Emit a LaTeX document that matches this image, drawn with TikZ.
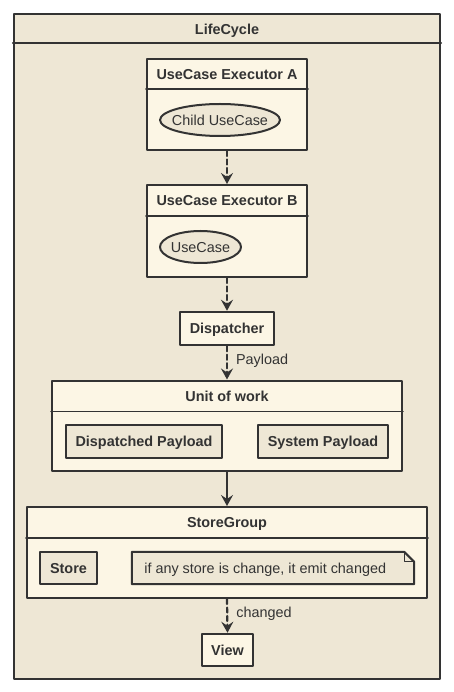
\documentclass[tikz,border=0pt]{standalone}
\usepackage{fontspec}
\setmainfont{Liberation Sans}
\usepackage{tikz}
\usetikzlibrary{arrows.meta}
\usetikzlibrary{shapes.geometric}
\usetikzlibrary{positioning}
\definecolor{bgpaper}{HTML}{EEE7D5}
\definecolor{boxpaper}{HTML}{FCF6E5}
\definecolor{ink}{HTML}{333333}
\tikzstyle{every node}=[font=\fontsize{14.4}{16}\selectfont, text=ink, text height=10.4pt, text depth=0pt]
\tikzstyle{every path}=[line cap=round,line join=round]
\tikzstyle{group}=[draw=ink, fill=boxpaper, line width=2pt, inner sep=0pt]
\tikzstyle{header}=[font=\fontsize{14.4}{16}\selectfont\bfseries]
\tikzstyle{divider}=[draw=ink, line width=1.7pt]
\tikzstyle{item}=[draw=ink, fill=bgpaper, line width=2pt, inner sep=0pt, font=\fontsize{14.4}{16}\selectfont\bfseries]
\tikzstyle{single}=[draw=ink, fill=boxpaper, line width=2.5pt, inner sep=0pt, font=\fontsize{14.4}{16}\selectfont\bfseries]
\tikzstyle{usecase}=[ellipse, draw=ink, fill=bgpaper, line width=2pt, inner sep=0pt]
\tikzstyle{flow}=[draw=ink, line width=2.2pt, -{Stealth[length=11pt,width=12pt,inset=4pt]}]
\tikzstyle{dashflow}=[flow, dash pattern=on 5pt off 3.5pt]
\tikzstyle{flowlabel}=[right=8pt, inner sep=0pt]

\begin{document}
\begin{tikzpicture}[x=1pt,y=-1pt]
\useasboundingbox (0,0) rectangle (453,692);

% outer frame
\node[group, fill=bgpaper, line width=2.2pt, minimum width=426pt, minimum height=665pt] (lifecycle) at (227,346.5) {};
\draw[divider, line width=2.2pt] ([yshift=-30pt]lifecycle.north west) -- ([yshift=-30pt]lifecycle.north east);
\node[header] (lifecycletitle) at ([yshift=-16pt]lifecycle.north) {LifeCycle};

% executors
\node[group, minimum width=160pt, minimum height=91pt] (execA) at (227,104.5) {};
\draw[divider] ([yshift=-31pt]execA.north west) -- ([yshift=-31pt]execA.north east);
\node[header] (execAtitle) at ([yshift=-16.5pt]execA.north) {UseCase Executor A};
\node[usecase, minimum width=120pt, minimum height=32pt] (childcase) at (220,120) {\makebox[0pt]{Child UseCase}};

\node[group, minimum width=160pt, minimum height=92pt] (execB) at (227,231) {};
\draw[divider] ([yshift=-32pt]execB.north west) -- ([yshift=-32pt]execB.north east);
\node[header] (execBtitle) at ([yshift=-16.5pt]execB.north) {UseCase Executor B};
\node[usecase, minimum width=81pt, minimum height=32pt] (usecase) at (200.5,247) {\makebox[0pt]{UseCase}};

\node[single, minimum width=94pt, minimum height=33pt] (dispatcher) at (227,328.5) {Dispatcher};

% unit of work
\node[group, minimum width=350pt, minimum height=90pt] (unit) at (227,425.5) {};
\draw[divider] ([yshift=-32pt]unit.north west) -- ([yshift=-32pt]unit.north east);
\node[header] (unittitle) at ([yshift=-16.5pt]unit.north) {Unit of work};
\node[item, minimum width=156pt, minimum height=33pt] (dispatched) at (144,441.5) {Dispatched Payload};
\node[item, minimum width=130pt, minimum height=33pt] (system) at (323,441.5) {System Payload};

% store group
\node[group, minimum width=400pt, minimum height=91pt] (storegroup) at (227,552.5) {};
\draw[divider] ([yshift=-32pt]storegroup.north west) -- ([yshift=-32pt]storegroup.north east);
\node[header] (storegrouptitle) at ([yshift=-16.5pt]storegroup.north) {StoreGroup};
\node[item, minimum width=57pt, minimum height=32pt] (store) at (68.5,568) {Store};
\node[minimum width=282pt, minimum height=32pt, inner sep=0pt] (note) at (273,568) {};
\draw[item] (note.north west) -- ([xshift=-10pt]note.north east) -- ([yshift=-10pt]note.north east) -- (note.south east) -- (note.south west) -- cycle;
\draw[divider, line width=1.3pt] ([xshift=-10pt]note.north east) -- ([xshift=-10pt,yshift=-10pt]note.north east) -- ([yshift=-10pt]note.north east);
\node[anchor=west] (notetext) at ([xshift=9pt]note.west) {if any store is change, it emit changed};

\node[single, minimum width=51pt, minimum height=32pt] (view) at (227.5,650) {View};

% connectors
\draw[dashflow] (execA.south) -- (execB.north);
\draw[dashflow] (execB.south) -- (dispatcher.north);
\draw[dashflow] (dispatcher.south) -- node[flowlabel, pos=0.38] {Payload} (unit.north);
\draw[flow] (unit.south) -- (storegroup.north);
\draw[dashflow] (storegroup.south) -- node[flowlabel, pos=0.4] {changed} (view.north);
\end{tikzpicture}
\end{document}
